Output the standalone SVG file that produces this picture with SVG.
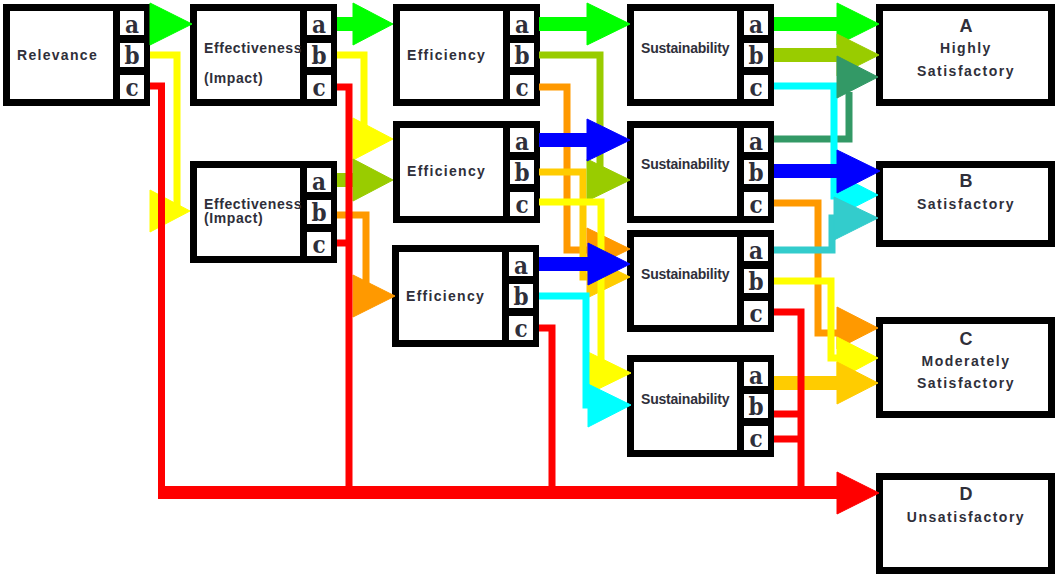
<svg xmlns="http://www.w3.org/2000/svg" xmlns:xlink="http://www.w3.org/1999/xlink" width="1056" height="574" viewBox="0 0 1056 574">
  <style>
    .lbl { font-family: "Liberation Sans", Arial, sans-serif; font-weight: bold; font-size: 14px; fill: #2f2f3a; }
    .sp { letter-spacing: 1.3px; }
    .sp2 { letter-spacing: 0.6px; }
    .sust { letter-spacing: -0.2px; }
    .out { text-anchor: middle; letter-spacing: 1.5px; }
    .big { text-anchor: middle; font-size: 18px; }
    .port { font-family: "DejaVu Serif Condensed", "DejaVu Serif", "Liberation Serif", serif; font-stretch: condensed; font-weight: bold; font-size: 24px; fill: #2f2f3a; text-anchor: middle; }
    .ln { fill: none; stroke-width: 7; stroke-linejoin: miter; stroke-linecap: butt; }
    .shaft { fill: none; stroke-width: 14; stroke-linecap: butt; }
    .bar { fill: none; stroke-width: 13; stroke-linecap: butt; }
    .green { stroke: #00ff00; fill: #00ff00; }
    .yellow { stroke: #ffff00; fill: #ffff00; }
    .red { stroke: #ff0000; fill: #ff0000; }
    .olive { stroke: #99cc00; fill: #99cc00; }
    .orange { stroke: #ff9900; fill: #ff9900; }
    .gold { stroke: #ffcc00; fill: #ffcc00; }
    .blue { stroke: #0000ff; fill: #0000ff; }
    .cyan { stroke: #00ffff; fill: #00ffff; }
    .sea { stroke: #339966; fill: #339966; }
    .teal { stroke: #33cccc; fill: #33cccc; }
    .ln.green, .ln.yellow, .ln.red, .ln.olive, .ln.orange, .ln.gold, .ln.blue, .ln.cyan, .ln.sea, .ln.teal,
    .shaft.green, .shaft.olive, .shaft.blue, .shaft.gold, .bar.red { fill: none; }
    polygon { stroke: none; }
  </style>
  <defs>
    <!-- criterion box: label area plus a column of three rating cells -->
    <g id="frame">
      <rect x="0" y="0" width="147" height="102" fill="#000"/>
      <rect x="7" y="7" width="103" height="88" fill="#fff"/>
      <rect x="117" y="7" width="24" height="24" fill="#fff"/>
      <rect x="117" y="39" width="24" height="24" fill="#fff"/>
      <rect x="117" y="71" width="24" height="24" fill="#fff"/>
    </g>
  </defs>

  <rect width="1056" height="574" fill="#fff"/>

  <!-- criterion nodes -->
  <g id="relevance">
    <use xlink:href="#frame" x="3" y="4"/>
    <text class="lbl sp" x="17" y="60">Relevance</text>
    <text class="port" x="132" y="33">a</text>
    <text class="port" x="132" y="64">b</text>
    <text class="port" x="132" y="96">c</text>
  </g>

  <g id="effectiveness-1">
    <use xlink:href="#frame" x="190" y="4"/>
    <text class="lbl sp2" x="204" y="53">Effectiveness</text>
    <text class="lbl sp2" x="204" y="83">(Impact)</text>
    <text class="port" x="319" y="33">a</text>
    <text class="port" x="319" y="64">b</text>
    <text class="port" x="319" y="96">c</text>
  </g>

  <g id="effectiveness-2">
    <use xlink:href="#frame" x="190" y="161"/>
    <text class="lbl sp2" x="204" y="209">Effectiveness</text>
    <text class="lbl sp2" x="204" y="223">(Impact)</text>
    <text class="port" x="319" y="190">a</text>
    <text class="port" x="319" y="221">b</text>
    <text class="port" x="319" y="253">c</text>
  </g>

  <g id="efficiency-1">
    <use xlink:href="#frame" x="393" y="4"/>
    <text class="lbl sp" x="407" y="60">Efficiency</text>
    <text class="port" x="522" y="33">a</text>
    <text class="port" x="522" y="64">b</text>
    <text class="port" x="522" y="96">c</text>
  </g>

  <g id="efficiency-2">
    <use xlink:href="#frame" x="393" y="121"/>
    <text class="lbl sp" x="407" y="176">Efficiency</text>
    <text class="port" x="522" y="150">a</text>
    <text class="port" x="522" y="181">b</text>
    <text class="port" x="522" y="213">c</text>
  </g>

  <g id="efficiency-3">
    <use xlink:href="#frame" x="392" y="245"/>
    <text class="lbl sp" x="406" y="301">Efficiency</text>
    <text class="port" x="521" y="274">a</text>
    <text class="port" x="521" y="305">b</text>
    <text class="port" x="521" y="337">c</text>
  </g>

  <g id="sustainability-1">
    <use xlink:href="#frame" x="627" y="4"/>
    <text class="lbl sust" x="641" y="53">Sustainability</text>
    <text class="port" x="756" y="33">a</text>
    <text class="port" x="756" y="64">b</text>
    <text class="port" x="756" y="96">c</text>
  </g>

  <g id="sustainability-2">
    <use xlink:href="#frame" x="627" y="121"/>
    <text class="lbl sust" x="641" y="169">Sustainability</text>
    <text class="port" x="756" y="150">a</text>
    <text class="port" x="756" y="181">b</text>
    <text class="port" x="756" y="213">c</text>
  </g>

  <g id="sustainability-3">
    <use xlink:href="#frame" x="627" y="230"/>
    <text class="lbl sust" x="641" y="279">Sustainability</text>
    <text class="port" x="756" y="259">a</text>
    <text class="port" x="756" y="290">b</text>
    <text class="port" x="756" y="322">c</text>
  </g>

  <g id="sustainability-4">
    <use xlink:href="#frame" x="627" y="355"/>
    <text class="lbl sust" x="641" y="404">Sustainability</text>
    <text class="port" x="756" y="384">a</text>
    <text class="port" x="756" y="415">b</text>
    <text class="port" x="756" y="447">c</text>
  </g>

  <!-- overall rating nodes -->
  <g id="rating-a">
    <rect x="876" y="4" width="179" height="102" fill="#000"/>
    <rect x="883" y="11" width="165" height="88" fill="#fff"/>
    <text class="lbl big" x="966" y="32">A</text>
    <text class="lbl out" x="966" y="53">Highly</text>
    <text class="lbl out" x="966" y="76">Satisfactory</text>
  </g>

  <g id="rating-b">
    <rect x="876" y="161" width="179" height="86" fill="#000"/>
    <rect x="883" y="168" width="165" height="72" fill="#fff"/>
    <text class="lbl big" x="966" y="187">B</text>
    <text class="lbl out" x="966" y="209">Satisfactory</text>
  </g>

  <g id="rating-c">
    <rect x="876" y="317" width="179" height="101" fill="#000"/>
    <rect x="883" y="324" width="165" height="87" fill="#fff"/>
    <text class="lbl big" x="966" y="345">C</text>
    <text class="lbl out" x="966" y="366">Moderately</text>
    <text class="lbl out" x="966" y="388">Satisfactory</text>
  </g>

  <g id="rating-d">
    <rect x="876" y="473" width="179" height="101" fill="#000"/>
    <rect x="883" y="480" width="165" height="87" fill="#fff"/>
    <text class="lbl big" x="966" y="500">D</text>
    <text class="lbl out" x="966" y="522">Unsatisfactory</text>
  </g>

  <!-- connectors -->
  <g id="connectors">
    <!-- thin routed lines -->
    <path class="ln orange" d="M337 215 H366 V292"/>
    <path class="ln yellow" d="M337 55 H364 V135"/>
    <path class="ln yellow" d="M150 55 H177 V210"/>
    <path class="ln orange" d="M539 87 H567 V250 H590"/>
    <path class="ln gold" d="M539 172 H583 V277 H590"/>
    <path class="ln olive" d="M539 55 H600 V178"/>
    <path class="ln sea" d="M774 139 H849 V92"/>
    <path class="ln orange" d="M774 203 H818 V333 H840"/>
    <path class="ln cyan" d="M774 86 H834 V196 H840"/>
    <path class="ln teal" d="M774 250 H832 V218 H840"/>
    <path class="ln yellow" d="M774 281 H831 V358 H840"/>

    <!-- arrows into the effectiveness boxes -->
    <polygon class="green" points="150,3 150,45 192,24"/>
    <polygon class="yellow" points="150,190 150,232 190,211"/>

    <!-- arrows into the efficiency boxes -->
    <path class="shaft green" d="M337 24 H354"/>
    <polygon class="green" points="353,3 353,45 393,24"/>
    <polygon class="yellow" points="353,118 353,160 393,139"/>
    <path class="shaft olive" d="M337 180 H354"/>
    <polygon class="olive" points="353,159 353,201 393,180"/>
    <polygon class="orange" points="353,275 353,317 395,296"/>

    <!-- arrows into the sustainability boxes -->
    <path class="shaft green" d="M539 24 H588"/>
    <polygon class="green" points="587,3 587,45 630,24"/>
    <polygon class="olive" points="587,159 587,201 630,180"/>
    <polygon class="orange" points="587,228 587,270 630,249"/>
    <polygon class="gold" points="587,256 587,298 630,277"/>
    <path class="ln yellow" d="M539 202 H601 V372"/>
    <polygon class="yellow" points="588,352 588,394 631,373"/>
    <path class="ln cyan" d="M539 296 H586 V405 H590"/>
    <polygon class="cyan" points="588,384 588,427 631,405"/>
    <path class="shaft blue" d="M539 140 H588"/>
    <polygon class="blue" points="587,119 587,161 630,140"/>
    <path class="shaft blue" d="M539 264 H589"/>
    <polygon class="blue" points="588,243 588,285 630,264"/>

    <!-- arrows into the rating boxes -->
    <path class="shaft green" d="M774 24 H838"/>
    <polygon class="green" points="837,3 837,45 879,24"/>
    <path class="shaft olive" d="M774 55 H838"/>
    <polygon class="olive" points="837,34 837,76 879,55"/>
    <polygon class="sea" points="837,56 837,98 878,77"/>
    <polygon class="cyan" points="837,174 837,216 878,195"/>
    <path class="shaft blue" d="M774 171 H838"/>
    <polygon class="blue" points="837,150 837,193 880,171"/>
    <polygon class="teal" points="834,197 834,240 878,218"/>
    <polygon class="orange" points="837,307 837,349 878,328"/>
    <polygon class="yellow" points="837,337 837,380 878,358"/>
    <path class="shaft gold" d="M774 383 H838"/>
    <polygon class="gold" points="837,362 837,404 878,383"/>

    <!-- unsatisfactory paths collected on one bus -->
    <path class="ln red" d="M150 86 H161.5 V492"/>
    <path class="ln red" d="M337 87 H349 V492"/>
    <path class="ln red" d="M337 243 H349"/>
    <path class="ln red" d="M539 328 H552 V492"/>
    <path class="ln red" d="M774 312 H801 V492"/>
    <path class="ln red" d="M774 414 H801"/>
    <path class="ln red" d="M774 439 H801"/>
    <path class="bar red" d="M158 492.5 H838"/>
    <polygon class="red" points="837,472 837,514 879,493"/>
  </g>
</svg>
